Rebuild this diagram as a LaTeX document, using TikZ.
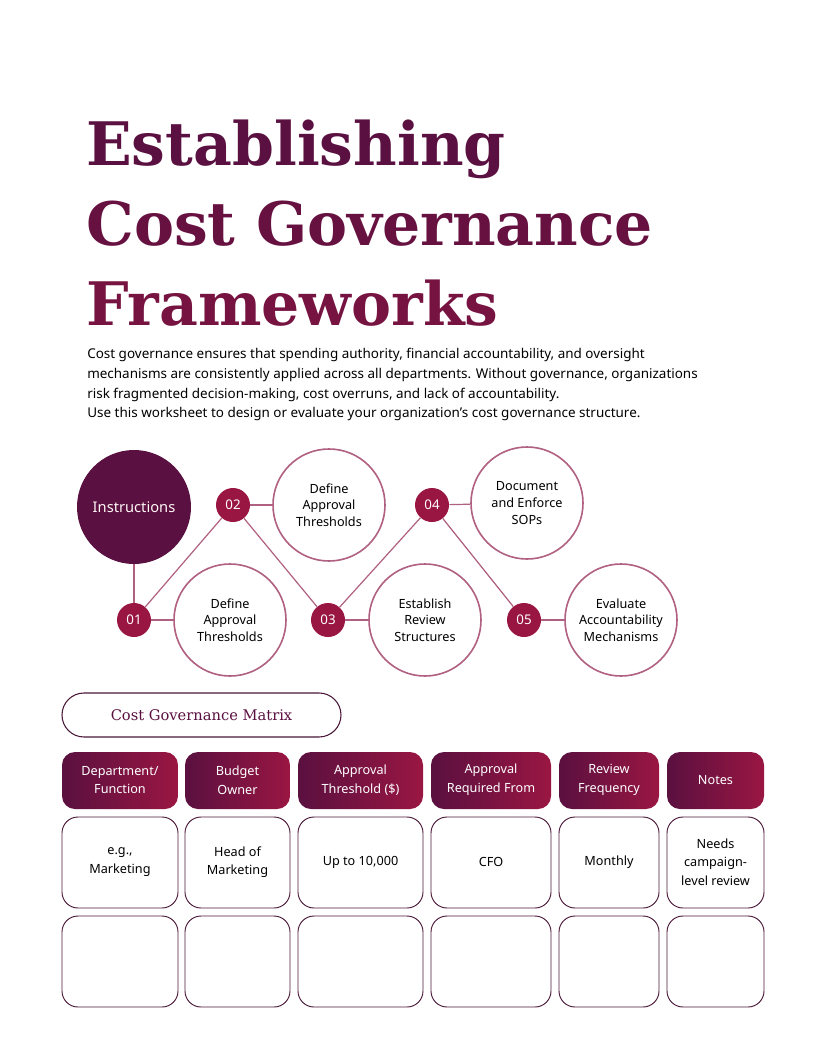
\documentclass[tikz,border=0pt]{standalone}
\usepackage{fontspec}
\setmainfont{Noto Sans}
\newfontfamily\slab{DejaVu Serif}
\begin{document}
\begin{tikzpicture}[x=0.75pt,y=-0.75pt]
\definecolor{dk}{HTML}{5A1040}
\definecolor{cr}{HTML}{9A1642}
\definecolor{ln}{HTML}{B06080}
\definecolor{cell}{HTML}{4A1838}
\tikzset{
 small/.style={circle,fill=cr,minimum size=34*0.75pt,inner sep=0,text=white,font=\fontsize{10}{12}\selectfont},
 big/.style={circle,draw=ln,line width=1.2pt,fill=white,minimum size=112*0.75pt,inner sep=0,align=center,font=\fontsize{9.5}{12.5}\selectfont},
 conn/.style={draw=ln,line width=0.9pt},
 txt/.style={align=center,font=\fontsize{9.5}{14}\selectfont}
}
\useasboundingbox (0,0) rectangle (816,1056);
\fill[white] (0,0) rectangle (816,1056);
% title
\node[anchor=base west,inner sep=0,text=dk,font=\slab\bfseries\fontsize{45}{55}\selectfont] (t1) at (86,165) {Establishing};
\node[anchor=base west,inner sep=0,text=dk!80!cr,font=\slab\bfseries\fontsize{45}{55}\selectfont] (t2) at (86,245) {Cost Governance};
\node[anchor=base west,inner sep=0,text=dk!55!cr,font=\slab\bfseries\fontsize{45}{55}\selectfont] (t3) at (86,325) {Frameworks};
\node[anchor=north west,inner sep=0,align=left,font=\fontsize{10.1}{14.8}\selectfont] (body) at (87,348) {Cost governance ensures that spending authority, financial accountability, and oversight\\mechanisms are consistently applied across all departments. Without governance, organizations\\risk fragmented decision-making, cost overruns, and lack of accountability.\\Use this worksheet to design or evaluate your organization’s cost governance structure.};
% flow
\node[big] (b2) at (329,505) {Define\\Approval\\Thresholds};
\node[big] (b1) at (230,620) {Define\\Approval\\Thresholds};
\node[big] (b4) at (527,503) {Document\\and Enforce\\SOPs};
\node[big] (b3) at (425,620) {Establish\\Review\\Structures};
\node[big] (b5) at (621,620) {Evaluate\\Accountability\\Mechanisms};
\node[circle,fill=dk,minimum size=114*0.75pt,text=white!85!pink,font=\fontsize{11}{13}\selectfont] (ins) at (134,507) {Instructions};
\node[small] (s1) at (134,620) {01};
\node[small] (s2) at (233,505) {02};
\node[small] (s3) at (328,620) {03};
\node[small] (s4) at (432,505) {04};
\node[small] (s5) at (524,620) {05};
\draw[conn] (ins) -- (s1);
\draw[conn] (s1) -- (s2); \draw[conn] (s2) -- (s3); \draw[conn] (s3) -- (s4); \draw[conn] (s4) -- (s5);
\draw[conn] (s1) -- (b1); \draw[conn] (s2) -- (b2); \draw[conn] (s3) -- (b3); \draw[conn] (s4) -- (b4); \draw[conn] (s5) -- (b5);
% matrix
\draw[draw=cell,line width=0.8pt,rounded corners=22*0.75pt] (62,693) rectangle (341,737);
\node[text=dk,font=\slab\fontsize{11}{13}\selectfont] (mt) at (201.5,715) {Cost Governance Matrix};
\foreach \a/\b/\h/\c [count=\i] in {62/178/{Department/\\Function}/{e.g.,\\Marketing},185/290/{Budget\\Owner}/{Head of\\Marketing},298/423/{Approval\\Threshold (\$)}/{Up to 10,000},431/551/{Approval\\Required From}/{CFO},559/659/{Review\\Frequency}/{Monthly},667/764/{Notes}/{Needs\\campaign-\\level review}}{
 \shade[left color=dk,right color=cr,rounded corners=13*0.75pt] (\a,752) rectangle (\b,809);
 \node[txt,text=white] (h\i) at ({(\a+\b)/2},780) {\h};
 \draw[draw=cell,line width=0.7pt,rounded corners=16*0.75pt] (\a,817) rectangle (\b,908);
 \node[txt] (c\i) at ({(\a+\b)/2},862) {\c};
 \draw[draw=cell,line width=0.7pt,rounded corners=16*0.75pt] (\a,916) rectangle (\b,1007);
}
\end{tikzpicture}
\end{document}
